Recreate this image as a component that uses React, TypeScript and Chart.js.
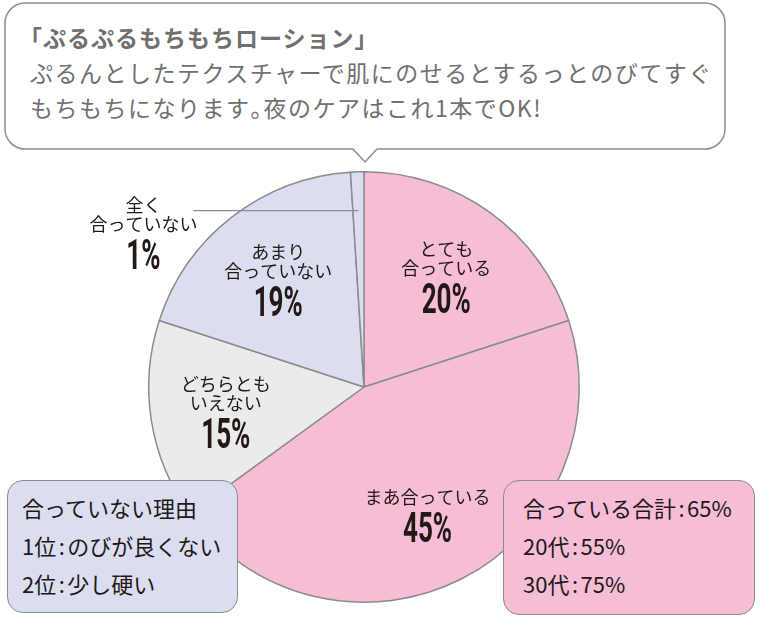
import React, { useEffect, useRef } from "react";
import { Chart, registerables } from "chart.js";

Chart.register(...registerables);

const categories = ["とても\n合っている", "まあ合っている", "どちらとも\nいえない", "あまり\n合っていない", "全く\n合っていない"];
const values = [20, 45, 15, 19, 1];
const sliceColors = ["#f5bdd6", "#f5bdd6", "#ebebeb", "#dadef0", "#dadef0"];
const bubbleTitle = "「ぷるぷるもちもちローション」";
const bubbleLines = ["ぷるんとしたテクスチャーで肌にのせるとするっとのびてすぐ", "もちもちになります。夜のケアはこれ1本でOK!"];
const reasonLines = ["合っていない理由", "1位:のびが良くない", "2位:少し硬い"];
const totalLines = ["合っている合計:65%", "20代:55%", "30代:75%"];

const JP = '"Noto Sans CJK JP", "Noto Sans", sans-serif';
const TEXT = "#231815";

const labelPlugin = {
  id: "sliceLabels",
  afterDatasetsDraw(chart: any) {
    const ctx = chart.ctx as CanvasRenderingContext2D;
    const meta = chart.getDatasetMeta(0);
    meta.data.forEach((arc: any, i: number) => {
      const { x, y, startAngle, endAngle, outerRadius } = arc.getProps(["x", "y", "startAngle", "endAngle", "outerRadius"], true);
      const mid = (startAngle + endAngle) / 2;
      const lines = categories[i].split("\n");
      let cx: number, cy: number;
      if (i === 4) {
        const px = x + Math.cos(mid) * outerRadius * 0.82;
        const py = y + Math.sin(mid) * outerRadius * 0.82;
        ctx.save();
        ctx.strokeStyle = "#8c8c8c";
        ctx.lineWidth = 1.3;
        ctx.beginPath();
        ctx.moveTo(px - 165, py);
        ctx.lineTo(px, py);
        ctx.stroke();
        ctx.restore();
        cx = px - 215;
        cy = py + 19;
      } else {
        cx = x + Math.cos(mid) * outerRadius * 0.65;
        cy = y + Math.sin(mid) * outerRadius * 0.65;
      }
      const lh = 19;
      const gap = 30;
      const span = (lines.length - 1) * lh + gap;
      const top = cy - span / 2;
      ctx.save();
      ctx.fillStyle = TEXT;
      ctx.textAlign = "center";
      ctx.textBaseline = "middle";
      ctx.font = `18px ${JP}`;
      lines.forEach((t, k) => ctx.fillText(t, cx, top + k * lh));
      const py2 = top + (lines.length - 1) * lh + gap;
      ctx.translate(cx, py2 + 15);
      ctx.scale(0.62, 1);
      ctx.font = `bold 42px Roboto, "DejaVu Sans", sans-serif`;
      ctx.textBaseline = "alphabetic";
      ctx.fillText(values[i] + "%", 0, 0);
      ctx.restore();
    });
  },
};

function withColon(t: string) {
  const parts = t.split(":");
  if (parts.length < 2) return t;
  return (
    <>
      {parts[0]}
      <span style={{ margin: "0 2.5px" }}>:</span>
      {parts.slice(1).join(":")}
    </>
  );
}

function withHalfPeriod(t: string) {
  const parts = t.split("。");
  if (parts.length < 2) return t;
  return (
    <>
      {parts[0]}
      <span style={{ fontFeatureSettings: '"halt"' }}>。</span>
      {parts.slice(1).join("。")}
    </>
  );
}

export default function App() {
  const ref = useRef<HTMLCanvasElement | null>(null);
  useEffect(() => {
    if (!ref.current) return;
    const chart = new Chart(ref.current, {
      type: "pie",
      data: {
        labels: categories.map((c) => c.replace("\n", "")),
        datasets: [
          {
            data: values,
            backgroundColor: sliceColors,
            borderColor: "#8c8c8c",
            borderWidth: 1.5,
          },
        ],
      },
      options: {
        animation: false,
        responsive: true,
        maintainAspectRatio: false,
        layout: { padding: { left: 148, right: 180, top: 171, bottom: 15 } },
        plugins: { legend: { display: false }, tooltip: { enabled: false } },
        events: [],
      },
      plugins: [labelPlugin],
    });
    return () => chart.destroy();
  }, []);

  const boxText: React.CSSProperties = {
    fontFamily: JP,
    fontSize: 22,
    color: TEXT,
    lineHeight: "38px",
    whiteSpace: "nowrap",
  };

  return (
    <div style={{ position: "absolute", left: 0, top: 0, width: 760, height: 618, background: "#fff", overflow: "hidden" }}>
      <svg width={760} height={170} style={{ position: "absolute", left: 0, top: 0 }}>
        <path
          d="M 25 3 H 705 A 20 20 0 0 1 725 23 V 129 A 20 20 0 0 1 705 149 H 377 L 365 162 L 353 149 H 25 A 20 20 0 0 1 5 129 V 23 A 20 20 0 0 1 25 3 Z"
          fill="#fff"
          stroke="#8c8c8c"
          strokeWidth={1.5}
        />
      </svg>
      <div
        style={{
          position: "absolute",
          left: 30,
          top: 20,
          fontFamily: JP,
          fontSize: 23,
          lineHeight: "35px",
          color: "#707070",
          whiteSpace: "nowrap",
        }}
      >
        <div style={{ fontWeight: 700, marginLeft: -11, letterSpacing: 1 }}>{bubbleTitle}</div>
        {bubbleLines.map((t) => (
          <div key={t} style={{ letterSpacing: 1.5 }}>{withHalfPeriod(t)}</div>
        ))}
      </div>
      <div style={{ position: "absolute", left: 0, top: 0, width: 760, height: 618 }}>
        <canvas ref={ref} />
      </div>
      <div
        style={{
          position: "absolute",
          left: 7,
          top: 480,
          width: 231,
          height: 133,
          boxSizing: "border-box",
          background: "#dadef0",
          border: "1.5px solid #8c8c8c",
          borderRadius: 16,
          padding: "7px 0 0 14px",
          ...boxText,
        }}
      >
        {reasonLines.map((t) => (
          <div key={t}>{withColon(t)}</div>
        ))}
      </div>
      <div
        style={{
          position: "absolute",
          left: 503,
          top: 480,
          width: 252,
          height: 135,
          boxSizing: "border-box",
          background: "#f5bdd6",
          border: "1.5px solid #8c8c8c",
          borderRadius: 16,
          padding: "7px 0 0 19px",
          ...boxText,
        }}
      >
        {totalLines.map((t) => (
          <div key={t}>{withColon(t)}</div>
        ))}
      </div>
    </div>
  );
}
